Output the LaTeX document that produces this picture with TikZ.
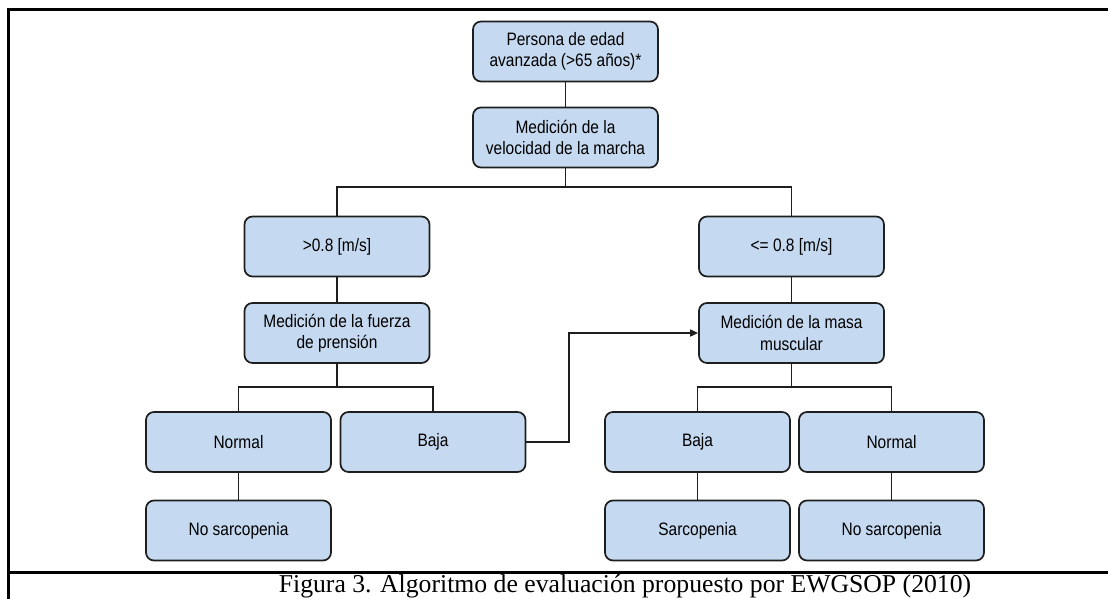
\documentclass[tikz,border=0pt]{standalone}
\usepackage{fontspec}
\setmainfont{Liberation Serif}
\newfontfamily\boxfont[FakeStretch=0.86]{Liberation Sans}
\usetikzlibrary{arrows.meta}
\definecolor{boxblue}{RGB}{197,217,240}
\definecolor{edge}{RGB}{30,30,30}
\tikzset{
  stepbox/.style={draw=edge, line width=1.7pt, fill=boxblue, rounded corners=8pt,
    minimum width=185pt, minimum height=60pt, inner sep=0pt, align=center,
    font=\boxfont\fontsize{18}{21.5}\selectfont},
  link/.style={draw=edge, line width=1.6pt},
  frame/.style={draw=black, line width=3pt}
}
\begin{document}
\begin{tikzpicture}[x=1pt, y=-1pt]
\useasboundingbox (0,0) rectangle (1108,599);

% outer frame and caption separator
\coordinate (fTL) at (8,10);
\coordinate (fTR) at (1109,10);
\coordinate (fBL) at (8,600);
\coordinate (cL) at (8,572);
\coordinate (cR) at (1109,572);
\draw[frame] (fTR) -- (fTL) -- (fBL);
\draw[frame] (cL) -- (cR);

% boxes
\node[stepbox] (top) at (565.5,51.5) {Persona de edad\\avanzada (>65 años)*};
\node[stepbox] (vel) at (565.5,137.5) {Medición de la\\velocidad de la marcha};
\node[stepbox] (fast) at (337,246.5) {>0.8 [m/s]};
\node[stepbox] (slow) at (791.5,246.5) {<= 0.8 [m/s]};
\node[stepbox] (grip) at (337,333) {Medición de la fuerza\\de prensión};
\node[stepbox] (mass) at (791.5,333) {Medición de la masa\\muscular};
\node[stepbox] (normL) at (238.5,442) {Normal};
\node[stepbox] (lowL) at (433,442) {Baja};
\node[stepbox] (lowR) at (697.5,442) {Baja};
\node[stepbox] (normR) at (891.5,442) {Normal};
\node[stepbox] (nosL) at (238.5,530.5) {No sarcopenia};
\node[stepbox] (sarc) at (697.5,530.5) {Sarcopenia};
\node[stepbox] (nosR) at (891.5,530.5) {No sarcopenia};

% connectors
\coordinate (s1) at (565.5,187);
\coordinate (s2) at (337,387);
\coordinate (s3) at (791.5,387);
\coordinate (jog) at (569,442);

\draw[link] (top) -- (vel);
\draw[link] (vel) -- (s1);
\draw[link] (fast.north) |- (s1) -| (slow.north);
\draw[link] (fast) -- (grip);
\draw[link] (slow) -- (mass);
\draw[link] (grip) -- (s2);
\draw[link] (normL.north) |- (s2) -| (lowL.north);
\draw[link] (mass) -- (s3);
\draw[link] (lowR.north) |- (s3) -| (normR.north);
\draw[link] (normL) -- (nosL);
\draw[link] (lowR) -- (sarc);
\draw[link] (normR) -- (nosR);
\draw[link, -{Triangle[length=8pt,width=7pt]}] (lowL.east) -- (jog) |- (mass.west);

% caption
\node[font=\fontsize{25.7}{28}\selectfont, inner sep=0pt] (cap) at (625,586)
  {Figura 3. Algoritmo de evaluación propuesto por EWGSOP (2010)};
\end{tikzpicture}
\end{document}
